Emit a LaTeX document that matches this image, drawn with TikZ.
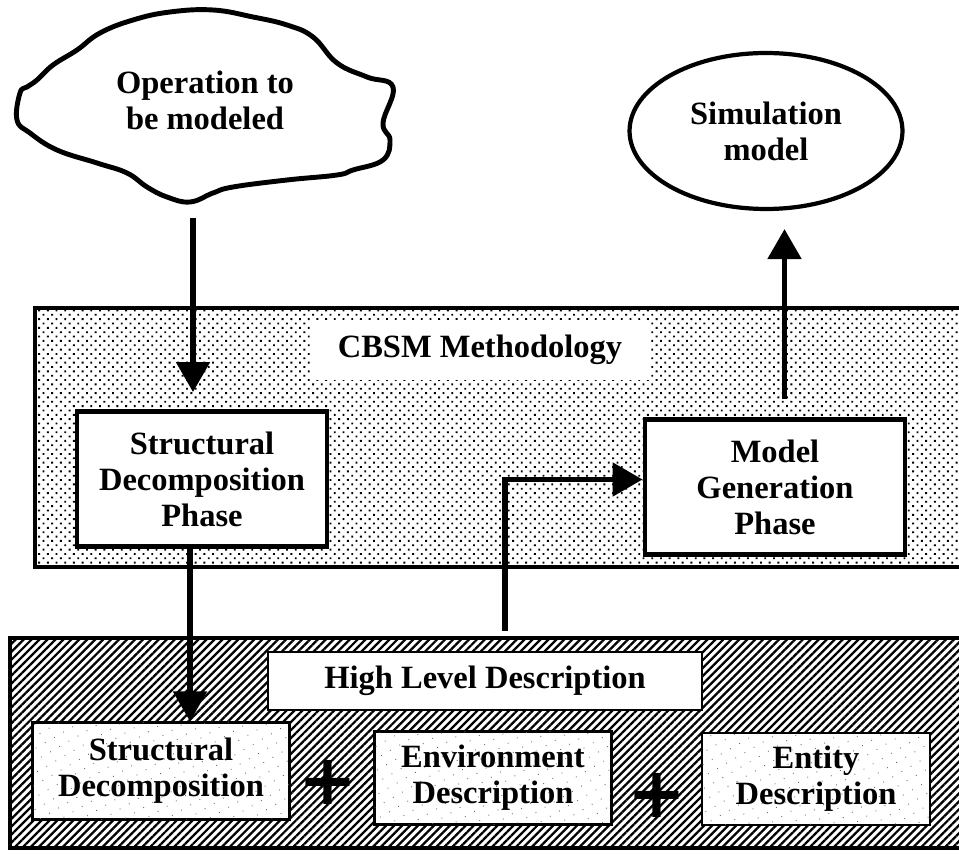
\documentclass[tikz,border=0pt]{standalone}
\usepackage{fontspec}
\setmainfont{Liberation Serif}
\newfontfamily\plusfont{DejaVu Sans}
\usetikzlibrary{arrows.meta,calc,shapes.geometric,patterns.meta}

\begin{document}
\begin{tikzpicture}[x=0.02cm, y=-0.02cm,
  font=\fontsize{18.5}{20.5}\selectfont\bfseries,
  phasebox/.style={draw, line width=2.8pt, fill=white, align=center},
  partbox/.style={draw, line width=1.2pt, fill=white, align=center,
    postaction={pattern={Dots[distance=6pt, radius=0.35pt, angle=30]}, pattern color=black!60}},
  banner/.style={fill=white, align=center},
  flow/.style={line width=3pt, -{Triangle[width=0.66cm, length=0.6cm]}},
  plussign/.style={font=\plusfont\fontsize{40}{40}\selectfont\bfseries, inner sep=0pt}]

\useasboundingbox (0,0) rectangle (959,854);

% CBSM band (dotted)
\fill[pattern={Dots[distance=3.5pt, radius=0.75pt, angle=45]}] (35,308) rectangle (959,567);
\draw[line width=2pt] (959,308) -- (35,308) -- (35,567) -- (959,567);

% description band (hatched)
\fill[pattern={Lines[angle=45, distance=3.2pt, line width=1.3pt]}] (10,638) rectangle (959,848);
\draw[line width=2pt] (959,638) -- (10,638) -- (10,848) -- (959,848);

% operation cloud
\node[align=center] (op) at (205,100) {Operation to\\be modeled};
\draw[line width=2.8pt] plot[smooth cycle, tension=0.7] coordinates {
  (20,93) (17,120) (30,133) (57,150) (97,163) (127,173) (147,187) (167,197)
  (190,202) (213,193) (233,187) (287,180) (337,175) (353,170) (383,160)
  (390,140) (383,123) (393,87) (367,77) (337,63) (313,37) (287,25) (253,17)
  (213,10) (170,12) (133,20) (100,33) (77,50) (53,65) (37,80) (27,87)};
\coordinate (opfoot) at (193,218);

\node[ellipse, draw, line width=2.4pt, minimum width=5.46cm, minimum height=3.12cm, align=center] (sim) at (766,131) {Simulation\\model};

\node[banner, minimum width=6.8cm, minimum height=1.2cm] (cbsm) at (480,350) {CBSM Methodology};
\node[phasebox, minimum width=5.0cm, minimum height=2.7cm] (sdp) at (202,479) {Structural\\Decomposition\\Phase};
\node[phasebox, minimum width=5.2cm, minimum height=2.7cm] (mgp) at (775,487) {Model\\Generation\\Phase};

\node[banner, draw, line width=1.2pt, minimum width=8.68cm, minimum height=1.16cm] (hld) at (485,681) {High Level Description};
\node[partbox, minimum width=5.14cm, minimum height=1.94cm] (sd) at (161,771) {Structural\\Decomposition};
\node[partbox, minimum width=4.74cm, minimum height=1.86cm] (env) at (493,778) {Environment\\Description};
\node[partbox, minimum width=4.56cm, minimum height=1.84cm] (ent) at (816,779) {Entity\\Description};
\node[plussign] (plusa) at (328,782) {+};
\node[plussign] (plusb) at (657,795) {+};

\draw[flow, shorten >=0.34cm] (opfoot) -- (opfoot |- sdp.north);
\draw[flow, shorten <=0.36cm, shorten >=0.36cm] ([xshift=0.19cm]mgp.north) -- ([xshift=0.19cm]mgp.north |- sim.south);
\draw[flow] ([xshift=-0.24cm]sdp.south) -- ([xshift=-0.24cm]sdp.south |- sd.north);
\draw[flow] ([xshift=0.4cm, yshift=0.4cm]hld.north) |- ([yshift=0.15cm]mgp.west);

\end{tikzpicture}
\end{document}
